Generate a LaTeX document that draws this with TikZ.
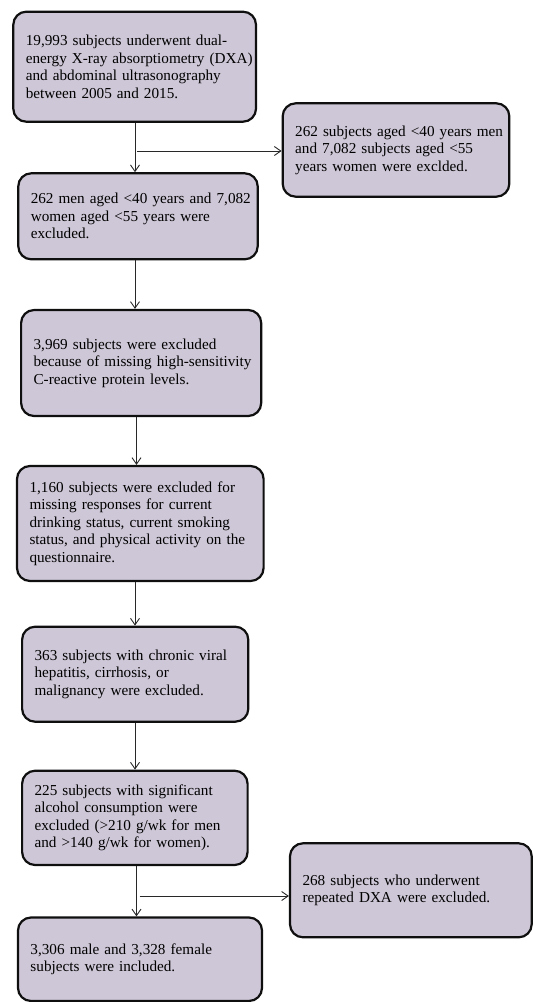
\documentclass[tikz,border=0pt]{standalone}
\usepackage{fontspec}
\setmainfont{Liberation Serif}
\usetikzlibrary{arrows.meta}
\definecolor{boxfill}{RGB}{206,199,215}
\definecolor{boxline}{RGB}{15,15,15}
\definecolor{arrline}{RGB}{40,40,40}
\begin{document}
\begin{tikzpicture}[x=1pt,y=-1pt,
  flowbox/.style={draw=boxline, fill=boxfill, line width=2.2pt, rounded corners=13pt,
    align=left, inner xsep=12.5pt, inner ysep=0pt,
    font=\fontsize{15.2}{17.5}\selectfont},
  arr/.style={draw=arrline, line width=0.9pt,
    -{Straight Barb[length=6.5pt,width=9pt,line width=0.9pt]}}]
\useasboundingbox (0,0) rectangle (533,1002);

\node[flowbox, minimum width=242.7pt, minimum height=110pt, text width=217.7pt] (b1) at (134.65,66.7)
  {\mbox{19,993 subjects underwent dual-}\\\mbox{energy X-ray absorptiometry (DXA)}\\\mbox{and abdominal ultrasonography}\\\mbox{between 2005 and 2015.}};
\node[flowbox, minimum width=226.6pt, minimum height=93.4pt, text width=201.6pt] (r1) at (396,150)
  {\mbox{262 subjects aged <40 years men}\\\mbox{and 7,082 subjects aged <55}\\\mbox{years women were exclded.}};
\node[flowbox, minimum width=239.4pt, minimum height=86pt, text width=214.4pt] (b2) at (138,216.3)
  {\mbox{262 men aged <40 years and 7,082}\\\mbox{women aged <55 years were}\\\mbox{excluded.}};
\node[flowbox, minimum width=240.1pt, minimum height=106pt, text width=215.1pt] (b3) at (141.15,363)
  {\mbox{3,969 subjects were excluded}\\\mbox{because of missing high-sensitivity}\\\mbox{C-reactive protein levels.}};
\node[flowbox, minimum width=246.6pt, minimum height=115pt, text width=221.6pt] (b4) at (140.3,523.5)
  {\mbox{1,160 subjects were excluded for}\\\mbox{missing responses for current}\\\mbox{drinking status, current smoking}\\\mbox{status, and physical activity on the}\\\mbox{questionnaire.}};
\node[flowbox, minimum width=226.2pt, minimum height=95pt, text width=201.2pt] (b5) at (135.2,674.2)
  {\mbox{363 subjects with chronic viral}\\\mbox{hepatitis, cirrhosis, or}\\\mbox{malignancy were excluded.}};
\node[flowbox, minimum width=225.5pt, minimum height=94.3pt, text width=200.5pt] (b6) at (134.85,817.85)
  {\mbox{225 subjects with significant}\\\mbox{alcohol consumption were}\\\mbox{excluded (>210 g/wk for men}\\\mbox{and >140 g/wk for women).}};
\node[flowbox, minimum width=241.7pt, minimum height=94pt, text width=216.7pt] (r2) at (410.85,890.3)
  {\mbox{268 subjects who underwent}\\\mbox{repeated DXA were excluded.}};
\node[flowbox, minimum width=244pt, minimum height=83.5pt, text width=219pt] (b7) at (140,959.25)
  {\mbox{3,306 male and 3,328 female}\\\mbox{subjects were included.}};

\coordinate (sA) at (135,0);
\coordinate (sB) at (136.5,0);
\coordinate (j1) at (137,151);
\coordinate (j2) at (139.5,896);

\draw[arr] (b1.south -| sA) -- (b2.north -| sA);
\draw[arr] (j1) -- (j1 -| r1.west);
\draw[arr] (b2.south -| sA) -- (b3.north -| sA);
\draw[arr] (b3.south -| sB) -- (b4.north -| sB);
\draw[arr] (b4.south -| sA) -- (b5.north -| sA);
\draw[arr] (b5.south -| sA) -- (b6.north -| sA);
\draw[arr] (b6.south -| sB) -- (b7.north -| sB);
\draw[arr] (j2) -- (j2 -| r2.west);
\end{tikzpicture}
\end{document}
